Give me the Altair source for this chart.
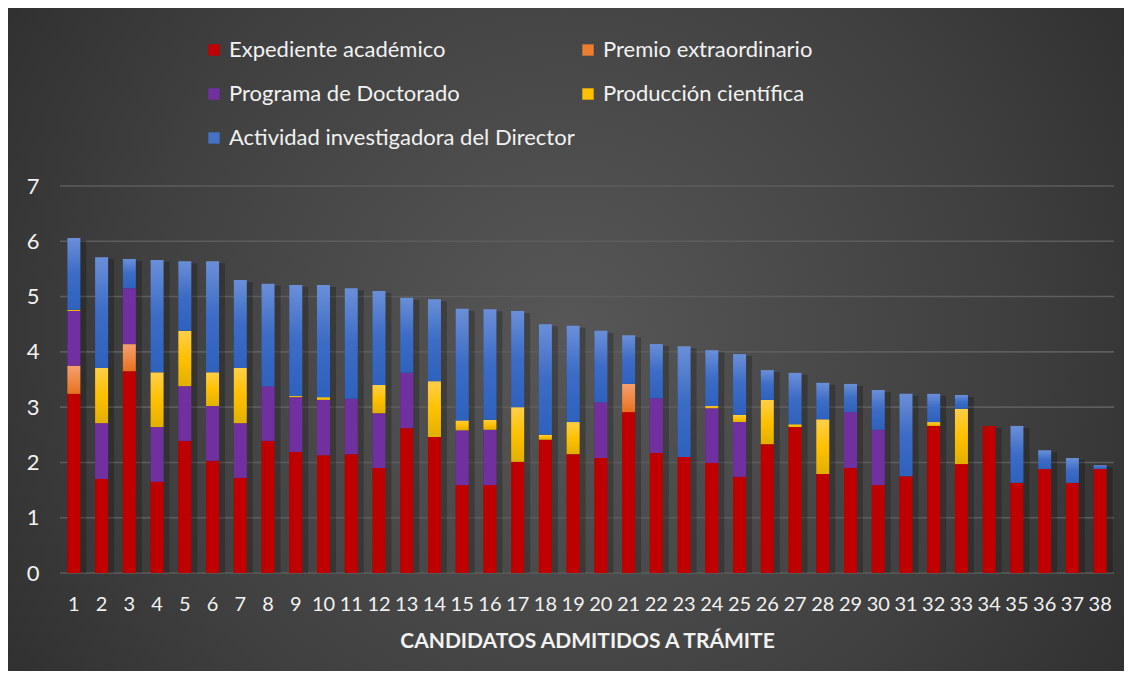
import altair as alt
import pandas as pd

candidates = list(range(1, 39))
series_names = ["Expediente académico", "Premio extraordinario", "Programa de Doctorado",
                "Producción científica", "Actividad investigadora del Director"]
expediente = [3.24, 1.70, 3.65, 1.65, 2.39, 2.03, 1.72, 2.39, 2.19, 2.13, 2.15, 1.90, 2.62, 2.46, 1.59, 1.59, 2.01, 2.41, 2.15,
              2.08, 2.91, 2.17, 2.10, 1.99, 1.74, 2.33, 2.64, 1.79, 1.90, 1.59, 1.75, 2.66, 1.97, 2.66, 1.63, 1.88, 1.63, 1.88]
premio = [0.51, 0, 0.49, 0, 0, 0, 0, 0, 0, 0, 0, 0, 0, 0, 0, 0, 0, 0, 0,
          0, 0.51, 0, 0, 0, 0, 0, 0, 0, 0, 0, 0, 0, 0, 0, 0, 0, 0, 0]
programa = [0.99, 1.01, 1.01, 0.99, 0.99, 0.99, 0.99, 0.99, 0.99, 1.00, 1.00, 0.99, 1.00, 0, 0.99, 1.00, 0, 0, 0,
            1.01, 0, 0.99, 0, 0.99, 0.99, 0, 0, 0, 1.01, 1.00, 0, 0, 0, 0, 0, 0, 0, 0]
produccion = [0.02, 1.00, 0, 0.99, 1.00, 0.61, 1.00, 0, 0.02, 0.05, 0, 0.51, 0, 1.01, 0.18, 0.18, 0.99, 0.09, 0.58,
              0, 0, 0, 0, 0.04, 0.13, 0.80, 0.05, 0.99, 0, 0, 0, 0.07, 1.00, 0, 0, 0, 0, 0]
actividad = [1.30, 2.00, 0.53, 2.03, 1.26, 2.01, 1.59, 1.85, 2.01, 2.03, 2.00, 1.70, 1.36, 1.48, 2.02, 2.00, 1.74, 2.00, 1.74,
             1.29, 0.88, 0.98, 2.00, 1.01, 1.10, 0.54, 0.93, 0.66, 0.51, 0.72, 1.49, 0.51, 0.25, 0, 1.03, 0.34, 0.45, 0.07]
y_ticks = [0, 1, 2, 3, 4, 5, 6, 7]

legend_colors = ["#C00000", "#ED7D31", "#7030A0", "#FFC000", "#4472C4"]
fills = [
    "#C00000",
    alt.LinearGradient(gradient="linear", x1=0, y1=0, x2=0, y2=1,
                       stops=[alt.GradientStop(color="#F5A070", offset=0), alt.GradientStop(color="#E8721F", offset=1)]),
    "#7030A0",
    alt.LinearGradient(gradient="linear", x1=0, y1=0, x2=0, y2=1,
                       stops=[alt.GradientStop(color="#FFCF48", offset=0), alt.GradientStop(color="#FFC000", offset=0.5),
                              alt.GradientStop(color="#E2B000", offset=1)]),
    alt.LinearGradient(gradient="linear", x1=0, y1=0, x2=0, y2=1,
                       stops=[alt.GradientStop(color="#6A8FD8", offset=0), alt.GradientStop(color="#3C6CC6", offset=0.5),
                              alt.GradientStop(color="#2E62BE", offset=1)]),
]

rows = []
for i, c in enumerate(candidates):
    for k, (name, vals) in enumerate(zip(series_names, [expediente, premio, programa, produccion, actividad])):
        rows.append({"candidato": c, "serie": name, "orden": k, "valor": vals[i]})
df = pd.DataFrame(rows)

FONT = "Lato, sans-serif"
W, H = 1054, 387
PL, PT, PR, PB = 52, 178, 10, 98

y_scale = alt.Scale(domain=[0, 7], nice=False, zero=True)
x_enc = alt.X("candidato:O", scale=alt.Scale(paddingInner=0, paddingOuter=0),
              axis=alt.Axis(title="CANDIDATOS ADMITIDOS A TRÁMITE", labelAngle=0, ticks=False, domain=False,
                            labelFontSize=20, labelColor="#f2f2f2", labelFont=FONT, labelPadding=21,
                            titleFont=FONT, titleFontSize=21, titleFontWeight="bold", titleColor="#f2f2f2",
                            titlePadding=16, grid=False, zindex=2))

bg = alt.Chart(pd.DataFrame({"a": [0]})).mark_rect(
    fill=alt.RadialGradient(gradient="radial", x1=0.5, y1=0.5, x2=0.5, y2=0.5, r1=0, r2=0.72,
                            stops=[alt.GradientStop(color="#575757", offset=0),
                                   alt.GradientStop(color="#3f3f3f", offset=0.55),
                                   alt.GradientStop(color="#262626", offset=1)])
).encode(x=alt.value(-PL), x2=alt.value(W + PR), y=alt.value(-PT), y2=alt.value(H + PB))

grid = alt.Chart(pd.DataFrame({"t": y_ticks})).mark_rule(color="#5d5d5d", strokeWidth=1.6).encode(
    y=alt.Y("t:Q", scale=y_scale,
            axis=alt.Axis(title=None, values=y_ticks, format="d", grid=False, ticks=False, domain=False,
                          labelFontSize=22, labelColor="#f2f2f2", labelFont=FONT, labelPadding=21, zindex=2))
)

base = alt.Chart(df).transform_stack(
    stack="valor", groupby=["candidato"], as_=["y0", "y1"], sort=[alt.SortField("orden", order="ascending")]
)

shadow = alt.Chart(df).transform_aggregate(total="sum(valor)", groupby=["candidato"]).mark_bar(
    color="#000000", opacity=0.22, size=19, xOffset=3, yOffset=2
).encode(x=x_enc, y=alt.Y("total:Q", scale=y_scale), y2=alt.datum(0))

layers = [bg, grid, shadow]
for name, f in zip(series_names, fills):
    layers.append(
        base.transform_filter(alt.datum.serie == name).transform_filter(alt.datum.valor > 0)
        .mark_bar(fill=f, size=13, stroke=None)
        .encode(x=x_enc, y=alt.Y("y1:Q", scale=y_scale), y2="y0:Q")
    )

legend_layer = base.mark_bar(size=13).encode(
    x=x_enc, y=alt.Y("y0:Q", scale=y_scale), y2="y0:Q",
    color=alt.Color("serie:N", scale=alt.Scale(domain=series_names, range=legend_colors),
                    legend=alt.Legend(title=None, orient="none", legendX=143, legendY=-147, columns=2,
                                      direction="horizontal", columnPadding=2, rowPadding=22,
                                      symbolType="square", symbolSize=130,
                                      symbolStrokeWidth=0, labelFontSize=22, labelFont=FONT,
                                      labelColor="#f2f2f2", labelLimit=400, symbolOffset=0, labelOffset=4,
                                      zindex=2))
)
layers.append(legend_layer)

chart = alt.layer(*layers).properties(
    width=W, height=H,
    autosize=alt.AutoSizeParams(type="none"),
    padding={"left": PL, "top": PT, "right": PR, "bottom": PB},
    background="#2b2b2b",
).configure_view(stroke=None)

chart.save("out.html", embed_options={"renderer": "svg", "actions": False})
